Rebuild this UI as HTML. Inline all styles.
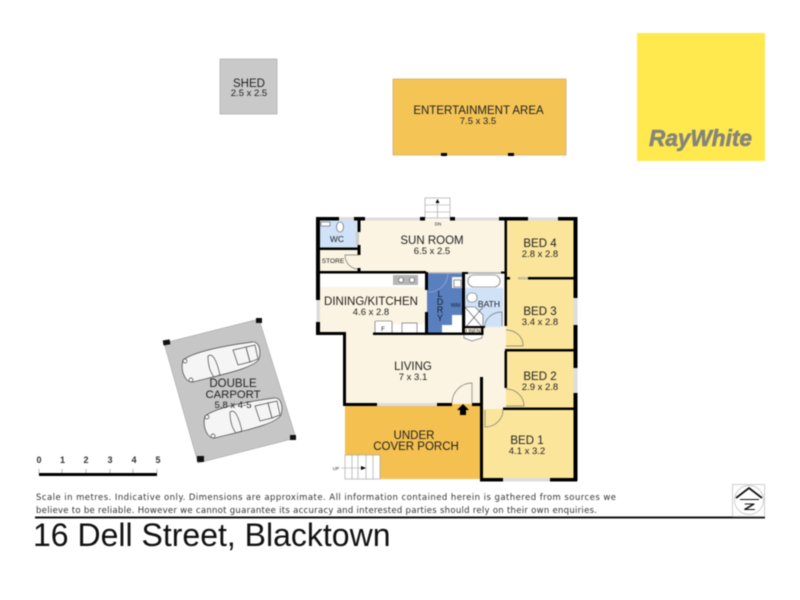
<!DOCTYPE html>
<html><head><meta charset="utf-8"><style>
html,body{margin:0;padding:0;background:#fff}
svg{display:block;filter:blur(.4px)}
text{font-family:"Liberation Sans",sans-serif;fill:#222;text-anchor:middle}
.n{font-size:11.5px}.d{font-size:9.5px}
</style></head><body>
<svg width="800" height="600" viewBox="0 0 800 600" xmlns="http://www.w3.org/2000/svg">
<rect width="800" height="600" fill="#fff"/>
<!-- logo -->
<rect x="637" y="33" width="128" height="128" fill="#ffe94f"/>
<text x="700.500" y="146" style="font-size:23px;font-weight:bold;font-style:italic;fill:#85847a;stroke:#85847a;stroke-width:.6" textLength="103" lengthAdjust="spacingAndGlyphs">RayWhite</text>
<!-- shed -->
<rect x="220" y="59" width="57" height="55" fill="#c9c9c9" stroke="#aaa" stroke-width=".7"/>
<text class="n" x="249" y="87">SHED</text><text class="d" x="249" y="96">2.5 x 2.5</text>
<!-- entertainment -->
<rect x="393" y="79" width="173" height="76" fill="#f4c455" stroke="#c9a860" stroke-width=".7"/>
<rect x="441" y="153" width="6" height="3" fill="#000"/><rect x="508" y="153" width="6" height="3" fill="#000"/>
<text class="n" x="478.500" y="114">ENTERTAINMENT AREA</text><text class="d" x="478" y="124">7.5 x 3.5</text>
<!-- carport -->
<polygon points="164,343 259,319 296,438 198,463" fill="#c6c6c6" stroke="#999" stroke-width=".5"/>
<rect x="163" y="340" width="7" height="5" fill="#111" transform="rotate(-10 166 342)"/>
<rect x="256" y="318" width="6" height="5" fill="#111"/>
<rect x="290" y="435" width="6" height="5" fill="#111"/>
<rect x="197" y="456" width="7" height="6" fill="#111"/>
<g fill="#f5f5f5" stroke="#444" stroke-width=".7">
<path d="M183,360 C195,351 230,345 252,342 C260,341 261,352 259,359 C254,368 225,374 193,382 C186,383 180,372 183,360Z"/>
<path d="M208,356 C213,352 217,362 220,375 L214,377 C210,372 208,364 208,356Z"/>
<path d="M233,350 L246,347 L250,362 L238,365Z"/>
<path d="M246,347 L255,345 L258,359 L250,362Z"/>
<circle cx="185" cy="361" r="2"/><circle cx="191" cy="380" r="2"/>
</g>
<g fill="#f5f5f5" stroke="#444" stroke-width=".7" transform="translate(22,56)">
<path d="M183,360 C195,351 230,345 252,342 C260,341 261,352 259,359 C254,368 225,374 193,382 C186,383 180,372 183,360Z"/>
<path d="M208,356 C213,352 217,362 220,375 L214,377 C210,372 208,364 208,356Z"/>
<path d="M233,350 L246,347 L250,362 L238,365Z"/>
<path d="M246,347 L255,345 L258,359 L250,362Z"/>
<circle cx="185" cy="361" r="2"/><circle cx="191" cy="380" r="2"/>
</g>
<text x="233" y="387" style="font-size:11.500px">DOUBLE</text><text x="233" y="398" style="font-size:11.300px">CARPORT</text><text x="233" y="408" style="font-size:9.500px">5.8 x 4-5</text>

<!-- floors -->
<rect x="318" y="219" width="188" height="54" fill="#fbf4e2"/>
<rect x="318" y="273" width="188" height="60" fill="#fbf4e2"/>
<rect x="345" y="333" width="161" height="71" fill="#fbf4e2"/>
<rect x="481" y="378" width="26" height="32" fill="#fbf4e2"/>
<rect x="319" y="220" width="38" height="28" fill="#cfe2f8"/>
<rect x="319" y="274" width="108" height="13" fill="#fff"/>
<rect x="506" y="219" width="69" height="60" fill="#fbe59b"/>
<rect x="506" y="279" width="69" height="72" fill="#fbe59b"/>
<rect x="506" y="351" width="69" height="58" fill="#fbe59b"/>
<rect x="482" y="409" width="93" height="71" fill="#fbe59b"/>
<rect x="345" y="404" width="136" height="75" fill="#f4c04f"/>
<!-- ldry/bath -->
<rect x="427" y="273" width="36" height="60" fill="#5a7fbe"/>
<path d="M442,333V325H452V315H463V333Z" fill="#fff"/>
<rect x="452" y="277" width="11" height="11" fill="#f4f4f4"/>
<rect x="464" y="274" width="41" height="14" fill="#f7f7f7"/>
<rect x="464" y="288" width="39" height="39" fill="#cfe2f8"/>
<rect x="393" y="275" width="25" height="10" fill="#b5b5b5"/>
<rect x="393" y="324" width="32" height="9" fill="#fff"/>
<!-- fixtures -->
<g fill="#fff" stroke="#555" stroke-width=".6">
<rect x="468" y="275" width="32" height="12" rx="6"/>
<rect x="467" y="293" width="10" height="9" rx="4"/>
<polygon points="465,307 475,307 483,315 483,328 465,328"/>
<path d="M465,307L483,328M483,307L465,328" fill="none"/>
<rect x="454" y="280" width="7" height="7"/>
<rect x="375" y="321" width="17" height="12" rx="1"/>
<rect x="402" y="323" width="15" height="10"/>
<ellipse cx="340" cy="227" rx="3.500" ry="5"/>
<rect x="321" y="222" width="9" height="4"/>
<circle cx="401" cy="280" r="2.500"/><circle cx="412" cy="280" r="2.500"/>
</g>
<!-- doors -->
<g fill="none" stroke="#777" stroke-width=".7">
<path d="M358,255H345A13,14 0 0 0 358,269"/>
<path d="M506,330A17,15 0 0 1 523,346H506"/>
<path d="M506,389A18,17 0 0 1 524,406H506"/>
<path d="M485,410V427A18,17 0 0 0 503,410"/>
<path d="M452,403A20,20 0 0 1 472,383V403"/>
<path d="M485,326A17,14 0 0 1 502,312V326"/>
<path d="M429,292A19,19 0 0 0 448,273" stroke="#9db4dc"/>
<path d="M464,335V338L472,341L482,338V335" fill="#fff"/>
</g>
<!-- stairs top -->
<g fill="#fff" stroke="#999" stroke-width=".6">
<rect x="425" y="198" width="25" height="20"/>
<path d="M425,205H450M425,212H450M437.500,201V218" fill="none"/>
</g>
<path d="M435.500,203L437.500,199L439.500,203Z" fill="#000"/>
<!-- stairs porch -->
<g fill="#fff" stroke="#999" stroke-width=".6">
<rect x="345" y="455" width="35" height="24"/>
<path d="M352,455V479M358,455V479M366,455V479M373,455V479M341,468H366" fill="none"/>
</g>
<path d="M361,466L366,468L361,470Z" fill="#000"/>
<text x="336" y="470" style="font-size:4.500px">UP</text>
<text x="438" y="225.500" style="font-size:4.500px">DN</text>
<!-- windows -->
<g fill="#ddd">
<rect x="339" y="217" width="15" height="3.500"/><rect x="365" y="217.500" width="55" height="3"/>
<rect x="455" y="217.500" width="45" height="3"/><rect x="528" y="217.500" width="30" height="3"/>
<rect x="316.500" y="300" width="3.500" height="22"/><rect x="573.500" y="298" width="4" height="27"/><rect x="573.500" y="368" width="4" height="25"/>
<rect x="377" y="403" width="60" height="3"/><rect x="503" y="478" width="47" height="3.500"/>
<rect x="356" y="232" width="3" height="13" fill="#ccc"/>
<rect x="468" y="272" width="36" height="2" fill="#bbb"/>
<rect x="428" y="272" width="34" height="1.500" fill="#bbb"/>
<rect x="518" y="277" width="10" height="2.500" fill="#c9c09a"/>
</g>
<!-- walls -->
<g fill="#000">
<rect x="316" y="217" width="23" height="3.500"/><rect x="354" y="217" width="11" height="3.500"/>
<rect x="420" y="217" width="5" height="3.500"/><rect x="450" y="217" width="5" height="3.500"/>
<rect x="499" y="217" width="29" height="3.500"/><rect x="558" y="217" width="19" height="3.500"/>
<rect x="316" y="217" width="4" height="83"/><rect x="316" y="322" width="4" height="13"/>
<rect x="316" y="332" width="30" height="3"/>
<rect x="343" y="333" width="3" height="73"/>
<rect x="343" y="403" width="34" height="3"/><rect x="437" y="403" width="15" height="3"/>
<rect x="472" y="403" width="11" height="3"/>
<rect x="480" y="377" width="3" height="104"/>
<rect x="480" y="478" width="23" height="3.500"/><rect x="550" y="478" width="27" height="3.500"/>
<rect x="573.500" y="217" width="4" height="81"/><rect x="573.500" y="325" width="4" height="43"/><rect x="573.500" y="393" width="4" height="88"/>
<rect x="357.500" y="218" width="3" height="14"/><rect x="357.500" y="245" width="3" height="10"/><rect x="357.500" y="268" width="3" height="4"/>
<rect x="318" y="247.500" width="40" height="2.500"/><rect x="318" y="271" width="108" height="2.500"/>
<rect x="504.500" y="218" width="2.500" height="108"/>
<rect x="504.500" y="351" width="2.500" height="37"/>
<rect x="503" y="407.500" width="73" height="2.500"/>
<rect x="505" y="349" width="71" height="2.500"/>
<rect x="505" y="277" width="5" height="2.500"/><rect x="528" y="277" width="48" height="2.500"/>
<rect x="501" y="271.500" width="4" height="2"/>
<rect x="425" y="272" width="3" height="18"/><rect x="425" y="312" width="3" height="22"/>
<rect x="373" y="332.500" width="110" height="2.500"/>
<rect x="462" y="272" width="3" height="63"/><rect x="462" y="272" width="6" height="2"/>
<rect x="463" y="326" width="22" height="2"/>
<rect x="481" y="326" width="2.500" height="9"/>
</g>
<path d="M463,404L469,410H466V415H460V410H457Z" fill="#000"/>
<!-- labels -->
<text x="337" y="242" style="font-size:8.500px">WC</text>
<text x="333" y="263" style="font-size:6.600px">STORE</text>
<text class="n" x="432" y="244">SUN ROOM</text><text class="d" x="432" y="254">6.5 x 2.5</text>
<text class="n" x="540" y="247">BED 4</text><text class="d" x="540" y="257">2.8 x 2.8</text>
<text class="n" x="540" y="315">BED 3</text><text class="d" x="540" y="325">3.4 x 2.8</text>
<text class="n" x="540" y="380">BED 2</text><text class="d" x="540" y="390">2.9 x 2.8</text>
<text class="n" x="527" y="444">BED 1</text><text class="d" x="527" y="454">4.1 x 3.2</text>
<text class="n" x="371" y="305">DINING/KITCHEN</text><text class="d" x="371" y="315">4.6 x 2.8</text>
<text class="n" x="413" y="370">LIVING</text><text class="d" x="413" y="380">7 x 3.1</text>
<text class="n" x="414" y="439">UNDER</text><text class="n" x="416" y="450">COVER PORCH</text>
<text x="489" y="307" style="font-size:8.600px">BATH</text>
<text x="455.500" y="307" style="font-size:5.500px;fill:#123">WM</text>
<text x="440" y="297" style="font-size:9px;fill:#123">L</text><text x="440" y="305" style="font-size:9px;fill:#123">D</text><text x="440" y="313" style="font-size:9px;fill:#123">R</text><text x="440" y="321" style="font-size:9px;fill:#123">Y</text>
<text x="473" y="333" style="font-size:5px">LINEN</text>
<text x="383" y="331" style="font-size:6px">F</text>
<!-- scale -->
<rect x="39" y="473" width="118" height="3" fill="#000"/>
<path d="M39,469V473M62,469V473M86,469V473M110,469V473M133,469V473M157,469V473" stroke="#888" stroke-width=".6"/>
<text x="39" y="463" style="font-size:9px;font-weight:bold;fill:#333">0</text><text x="62.500" y="463" style="font-size:9px;font-weight:bold;fill:#333">1</text><text x="86" y="463" style="font-size:9px;font-weight:bold;fill:#333">2</text><text x="110" y="463" style="font-size:9px;font-weight:bold;fill:#333">3</text><text x="134" y="463" style="font-size:9px;font-weight:bold;fill:#333">4</text><text x="158" y="463" style="font-size:9px;font-weight:bold;fill:#333">5</text>
<!-- disclaimer -->
<text x="36" y="500" style="font-family:'DejaVu Sans',sans-serif;font-size:8.500px;text-anchor:start;fill:#333" textLength="580" lengthAdjust="spacing">Scale in metres. Indicative only. Dimensions are approximate. All information contained herein is gathered from sources we</text>
<text x="36" y="513" style="font-family:'DejaVu Sans',sans-serif;font-size:8.500px;text-anchor:start;fill:#333" textLength="561" lengthAdjust="spacing">believe to be reliable. However we cannot guarantee its accuracy and interested parties should rely on their own enquiries.</text>
<rect x="35" y="516.500" width="730" height="2" fill="#111"/>
<text x="33" y="546" style="font-size:32px;text-anchor:start;fill:#111">16 Dell Street, Blacktown</text>
<!-- compass -->
<rect x="732.500" y="484.500" width="32" height="32" fill="#fff" stroke="#bbb" stroke-width=".7"/>
<circle cx="749" cy="500" r="14.500" fill="none" stroke="#bbb" stroke-width=".7"/>
<path d="M736,498L749,488L762,498" fill="none" stroke="#111" stroke-width="1.800"/>
<path d="M740,499.500H759" stroke="#111" stroke-width="1"/>
<text x="749.500" y="510" style="font-size:9.500px;font-weight:bold;fill:#111" textLength="12" lengthAdjust="spacingAndGlyphs">Z</text>
</svg>
</body></html>
